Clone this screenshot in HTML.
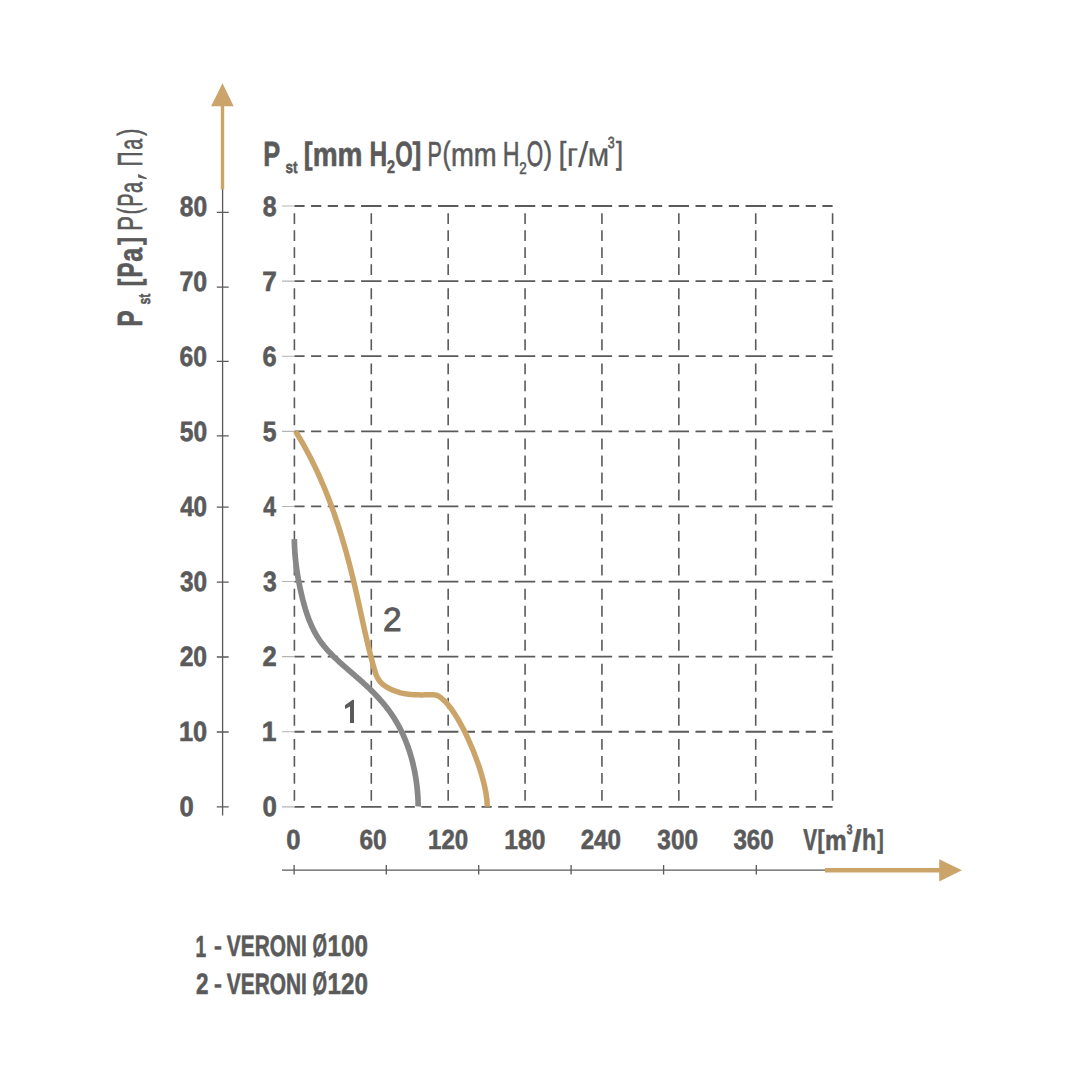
<!DOCTYPE html>
<html><head><meta charset="utf-8"><title>Chart</title>
<style>html,body{margin:0;padding:0;background:#fff;width:1080px;height:1080px;overflow:hidden}
svg{display:block;font-family:"Liberation Sans",sans-serif;font-kerning:none;text-rendering:geometricPrecision}</style>
</head><body>
<svg width="1080" height="1080" viewBox="0 0 1080 1080" font-family="Liberation Sans, sans-serif" style="font-kerning:none">
<rect width="1080" height="1080" fill="#ffffff"/>
<path d="M294.40 206.00H304.60M311.07 206.00H321.27M327.74 206.00H337.94M344.41 206.00H354.61M361.09 206.00H371.29M371.29 206.00H381.49M387.96 206.00H398.16M404.63 206.00H414.83M421.30 206.00H431.50M437.97 206.00H448.17M448.17 206.00H458.37M464.84 206.00H475.04M481.51 206.00H491.71M498.19 206.00H508.39M514.86 206.00H525.06M525.06 206.00H535.26M541.73 206.00H551.93M558.40 206.00H568.60M575.07 206.00H585.27M591.74 206.00H601.94M601.94 206.00H612.14M618.62 206.00H628.82M635.29 206.00H645.49M651.96 206.00H662.16M668.63 206.00H678.83M678.83 206.00H689.03M695.50 206.00H705.70M712.17 206.00H722.37M728.84 206.00H739.04M745.52 206.00H755.72M755.72 206.00H765.92M772.39 206.00H782.59M789.06 206.00H799.26M805.73 206.00H815.93M822.40 206.00H832.60M294.40 281.11H304.60M311.07 281.11H321.27M327.74 281.11H337.94M344.41 281.11H354.61M361.09 281.11H371.29M371.29 281.11H381.49M387.96 281.11H398.16M404.63 281.11H414.83M421.30 281.11H431.50M437.97 281.11H448.17M448.17 281.11H458.37M464.84 281.11H475.04M481.51 281.11H491.71M498.19 281.11H508.39M514.86 281.11H525.06M525.06 281.11H535.26M541.73 281.11H551.93M558.40 281.11H568.60M575.07 281.11H585.27M591.74 281.11H601.94M601.94 281.11H612.14M618.62 281.11H628.82M635.29 281.11H645.49M651.96 281.11H662.16M668.63 281.11H678.83M678.83 281.11H689.03M695.50 281.11H705.70M712.17 281.11H722.37M728.84 281.11H739.04M745.52 281.11H755.72M755.72 281.11H765.92M772.39 281.11H782.59M789.06 281.11H799.26M805.73 281.11H815.93M822.40 281.11H832.60M294.40 356.22H304.60M311.07 356.22H321.27M327.74 356.22H337.94M344.41 356.22H354.61M361.09 356.22H371.29M371.29 356.22H381.49M387.96 356.22H398.16M404.63 356.22H414.83M421.30 356.22H431.50M437.97 356.22H448.17M448.17 356.22H458.37M464.84 356.22H475.04M481.51 356.22H491.71M498.19 356.22H508.39M514.86 356.22H525.06M525.06 356.22H535.26M541.73 356.22H551.93M558.40 356.22H568.60M575.07 356.22H585.27M591.74 356.22H601.94M601.94 356.22H612.14M618.62 356.22H628.82M635.29 356.22H645.49M651.96 356.22H662.16M668.63 356.22H678.83M678.83 356.22H689.03M695.50 356.22H705.70M712.17 356.22H722.37M728.84 356.22H739.04M745.52 356.22H755.72M755.72 356.22H765.92M772.39 356.22H782.59M789.06 356.22H799.26M805.73 356.22H815.93M822.40 356.22H832.60M294.40 431.33H304.60M311.07 431.33H321.27M327.74 431.33H337.94M344.41 431.33H354.61M361.09 431.33H371.29M371.29 431.33H381.49M387.96 431.33H398.16M404.63 431.33H414.83M421.30 431.33H431.50M437.97 431.33H448.17M448.17 431.33H458.37M464.84 431.33H475.04M481.51 431.33H491.71M498.19 431.33H508.39M514.86 431.33H525.06M525.06 431.33H535.26M541.73 431.33H551.93M558.40 431.33H568.60M575.07 431.33H585.27M591.74 431.33H601.94M601.94 431.33H612.14M618.62 431.33H628.82M635.29 431.33H645.49M651.96 431.33H662.16M668.63 431.33H678.83M678.83 431.33H689.03M695.50 431.33H705.70M712.17 431.33H722.37M728.84 431.33H739.04M745.52 431.33H755.72M755.72 431.33H765.92M772.39 431.33H782.59M789.06 431.33H799.26M805.73 431.33H815.93M822.40 431.33H832.60M294.40 506.44H304.60M311.07 506.44H321.27M327.74 506.44H337.94M344.41 506.44H354.61M361.09 506.44H371.29M371.29 506.44H381.49M387.96 506.44H398.16M404.63 506.44H414.83M421.30 506.44H431.50M437.97 506.44H448.17M448.17 506.44H458.37M464.84 506.44H475.04M481.51 506.44H491.71M498.19 506.44H508.39M514.86 506.44H525.06M525.06 506.44H535.26M541.73 506.44H551.93M558.40 506.44H568.60M575.07 506.44H585.27M591.74 506.44H601.94M601.94 506.44H612.14M618.62 506.44H628.82M635.29 506.44H645.49M651.96 506.44H662.16M668.63 506.44H678.83M678.83 506.44H689.03M695.50 506.44H705.70M712.17 506.44H722.37M728.84 506.44H739.04M745.52 506.44H755.72M755.72 506.44H765.92M772.39 506.44H782.59M789.06 506.44H799.26M805.73 506.44H815.93M822.40 506.44H832.60M294.40 581.55H304.60M311.07 581.55H321.27M327.74 581.55H337.94M344.41 581.55H354.61M361.09 581.55H371.29M371.29 581.55H381.49M387.96 581.55H398.16M404.63 581.55H414.83M421.30 581.55H431.50M437.97 581.55H448.17M448.17 581.55H458.37M464.84 581.55H475.04M481.51 581.55H491.71M498.19 581.55H508.39M514.86 581.55H525.06M525.06 581.55H535.26M541.73 581.55H551.93M558.40 581.55H568.60M575.07 581.55H585.27M591.74 581.55H601.94M601.94 581.55H612.14M618.62 581.55H628.82M635.29 581.55H645.49M651.96 581.55H662.16M668.63 581.55H678.83M678.83 581.55H689.03M695.50 581.55H705.70M712.17 581.55H722.37M728.84 581.55H739.04M745.52 581.55H755.72M755.72 581.55H765.92M772.39 581.55H782.59M789.06 581.55H799.26M805.73 581.55H815.93M822.40 581.55H832.60M294.40 656.66H304.60M311.07 656.66H321.27M327.74 656.66H337.94M344.41 656.66H354.61M361.09 656.66H371.29M371.29 656.66H381.49M387.96 656.66H398.16M404.63 656.66H414.83M421.30 656.66H431.50M437.97 656.66H448.17M448.17 656.66H458.37M464.84 656.66H475.04M481.51 656.66H491.71M498.19 656.66H508.39M514.86 656.66H525.06M525.06 656.66H535.26M541.73 656.66H551.93M558.40 656.66H568.60M575.07 656.66H585.27M591.74 656.66H601.94M601.94 656.66H612.14M618.62 656.66H628.82M635.29 656.66H645.49M651.96 656.66H662.16M668.63 656.66H678.83M678.83 656.66H689.03M695.50 656.66H705.70M712.17 656.66H722.37M728.84 656.66H739.04M745.52 656.66H755.72M755.72 656.66H765.92M772.39 656.66H782.59M789.06 656.66H799.26M805.73 656.66H815.93M822.40 656.66H832.60M294.40 731.77H304.60M311.07 731.77H321.27M327.74 731.77H337.94M344.41 731.77H354.61M361.09 731.77H371.29M371.29 731.77H381.49M387.96 731.77H398.16M404.63 731.77H414.83M421.30 731.77H431.50M437.97 731.77H448.17M448.17 731.77H458.37M464.84 731.77H475.04M481.51 731.77H491.71M498.19 731.77H508.39M514.86 731.77H525.06M525.06 731.77H535.26M541.73 731.77H551.93M558.40 731.77H568.60M575.07 731.77H585.27M591.74 731.77H601.94M601.94 731.77H612.14M618.62 731.77H628.82M635.29 731.77H645.49M651.96 731.77H662.16M668.63 731.77H678.83M678.83 731.77H689.03M695.50 731.77H705.70M712.17 731.77H722.37M728.84 731.77H739.04M745.52 731.77H755.72M755.72 731.77H765.92M772.39 731.77H782.59M789.06 731.77H799.26M805.73 731.77H815.93M822.40 731.77H832.60M294.40 806.88H304.60M311.07 806.88H321.27M327.74 806.88H337.94M344.41 806.88H354.61M361.09 806.88H371.29M371.29 806.88H381.49M387.96 806.88H398.16M404.63 806.88H414.83M421.30 806.88H431.50M437.97 806.88H448.17M448.17 806.88H458.37M464.84 806.88H475.04M481.51 806.88H491.71M498.19 806.88H508.39M514.86 806.88H525.06M525.06 806.88H535.26M541.73 806.88H551.93M558.40 806.88H568.60M575.07 806.88H585.27M591.74 806.88H601.94M601.94 806.88H612.14M618.62 806.88H628.82M635.29 806.88H645.49M651.96 806.88H662.16M668.63 806.88H678.83M678.83 806.88H689.03M695.50 806.88H705.70M712.17 806.88H722.37M728.84 806.88H739.04M745.52 806.88H755.72M755.72 806.88H765.92M772.39 806.88H782.59M789.06 806.88H799.26M805.73 806.88H815.93M822.40 806.88H832.60" stroke="#5a5a5b" stroke-width="1.8" fill="none"/>
<path d="M294.40 213.20V224.10M294.40 230.20V241.10M294.40 247.20V258.10M294.40 264.20V275.10M294.40 288.31V299.21M294.40 305.31V316.21M294.40 322.31V333.21M294.40 339.31V350.21M294.40 363.42V374.32M294.40 380.42V391.32M294.40 397.42V408.32M294.40 414.42V425.32M294.40 438.53V449.43M294.40 455.53V466.43M294.40 472.53V483.43M294.40 489.53V500.43M294.40 513.64V524.54M294.40 530.64V541.54M294.40 547.64V558.54M294.40 564.64V575.54M294.40 588.75V599.65M294.40 605.75V616.65M294.40 622.75V633.65M294.40 639.75V650.65M294.40 663.86V674.76M294.40 680.86V691.76M294.40 697.86V708.76M294.40 714.86V725.76M294.40 738.97V749.87M294.40 755.97V766.87M294.40 772.97V783.87M294.40 789.97V800.87M371.29 213.20V224.10M371.29 230.20V241.10M371.29 247.20V258.10M371.29 264.20V275.10M371.29 288.31V299.21M371.29 305.31V316.21M371.29 322.31V333.21M371.29 339.31V350.21M371.29 363.42V374.32M371.29 380.42V391.32M371.29 397.42V408.32M371.29 414.42V425.32M371.29 438.53V449.43M371.29 455.53V466.43M371.29 472.53V483.43M371.29 489.53V500.43M371.29 513.64V524.54M371.29 530.64V541.54M371.29 547.64V558.54M371.29 564.64V575.54M371.29 588.75V599.65M371.29 605.75V616.65M371.29 622.75V633.65M371.29 639.75V650.65M371.29 663.86V674.76M371.29 680.86V691.76M371.29 697.86V708.76M371.29 714.86V725.76M371.29 738.97V749.87M371.29 755.97V766.87M371.29 772.97V783.87M371.29 789.97V800.87M448.17 213.20V224.10M448.17 230.20V241.10M448.17 247.20V258.10M448.17 264.20V275.10M448.17 288.31V299.21M448.17 305.31V316.21M448.17 322.31V333.21M448.17 339.31V350.21M448.17 363.42V374.32M448.17 380.42V391.32M448.17 397.42V408.32M448.17 414.42V425.32M448.17 438.53V449.43M448.17 455.53V466.43M448.17 472.53V483.43M448.17 489.53V500.43M448.17 513.64V524.54M448.17 530.64V541.54M448.17 547.64V558.54M448.17 564.64V575.54M448.17 588.75V599.65M448.17 605.75V616.65M448.17 622.75V633.65M448.17 639.75V650.65M448.17 663.86V674.76M448.17 680.86V691.76M448.17 697.86V708.76M448.17 714.86V725.76M448.17 738.97V749.87M448.17 755.97V766.87M448.17 772.97V783.87M448.17 789.97V800.87M525.06 213.20V224.10M525.06 230.20V241.10M525.06 247.20V258.10M525.06 264.20V275.10M525.06 288.31V299.21M525.06 305.31V316.21M525.06 322.31V333.21M525.06 339.31V350.21M525.06 363.42V374.32M525.06 380.42V391.32M525.06 397.42V408.32M525.06 414.42V425.32M525.06 438.53V449.43M525.06 455.53V466.43M525.06 472.53V483.43M525.06 489.53V500.43M525.06 513.64V524.54M525.06 530.64V541.54M525.06 547.64V558.54M525.06 564.64V575.54M525.06 588.75V599.65M525.06 605.75V616.65M525.06 622.75V633.65M525.06 639.75V650.65M525.06 663.86V674.76M525.06 680.86V691.76M525.06 697.86V708.76M525.06 714.86V725.76M525.06 738.97V749.87M525.06 755.97V766.87M525.06 772.97V783.87M525.06 789.97V800.87M601.94 213.20V224.10M601.94 230.20V241.10M601.94 247.20V258.10M601.94 264.20V275.10M601.94 288.31V299.21M601.94 305.31V316.21M601.94 322.31V333.21M601.94 339.31V350.21M601.94 363.42V374.32M601.94 380.42V391.32M601.94 397.42V408.32M601.94 414.42V425.32M601.94 438.53V449.43M601.94 455.53V466.43M601.94 472.53V483.43M601.94 489.53V500.43M601.94 513.64V524.54M601.94 530.64V541.54M601.94 547.64V558.54M601.94 564.64V575.54M601.94 588.75V599.65M601.94 605.75V616.65M601.94 622.75V633.65M601.94 639.75V650.65M601.94 663.86V674.76M601.94 680.86V691.76M601.94 697.86V708.76M601.94 714.86V725.76M601.94 738.97V749.87M601.94 755.97V766.87M601.94 772.97V783.87M601.94 789.97V800.87M678.83 213.20V224.10M678.83 230.20V241.10M678.83 247.20V258.10M678.83 264.20V275.10M678.83 288.31V299.21M678.83 305.31V316.21M678.83 322.31V333.21M678.83 339.31V350.21M678.83 363.42V374.32M678.83 380.42V391.32M678.83 397.42V408.32M678.83 414.42V425.32M678.83 438.53V449.43M678.83 455.53V466.43M678.83 472.53V483.43M678.83 489.53V500.43M678.83 513.64V524.54M678.83 530.64V541.54M678.83 547.64V558.54M678.83 564.64V575.54M678.83 588.75V599.65M678.83 605.75V616.65M678.83 622.75V633.65M678.83 639.75V650.65M678.83 663.86V674.76M678.83 680.86V691.76M678.83 697.86V708.76M678.83 714.86V725.76M678.83 738.97V749.87M678.83 755.97V766.87M678.83 772.97V783.87M678.83 789.97V800.87M755.72 213.20V224.10M755.72 230.20V241.10M755.72 247.20V258.10M755.72 264.20V275.10M755.72 288.31V299.21M755.72 305.31V316.21M755.72 322.31V333.21M755.72 339.31V350.21M755.72 363.42V374.32M755.72 380.42V391.32M755.72 397.42V408.32M755.72 414.42V425.32M755.72 438.53V449.43M755.72 455.53V466.43M755.72 472.53V483.43M755.72 489.53V500.43M755.72 513.64V524.54M755.72 530.64V541.54M755.72 547.64V558.54M755.72 564.64V575.54M755.72 588.75V599.65M755.72 605.75V616.65M755.72 622.75V633.65M755.72 639.75V650.65M755.72 663.86V674.76M755.72 680.86V691.76M755.72 697.86V708.76M755.72 714.86V725.76M755.72 738.97V749.87M755.72 755.97V766.87M755.72 772.97V783.87M755.72 789.97V800.87M832.60 213.20V224.10M832.60 230.20V241.10M832.60 247.20V258.10M832.60 264.20V275.10M832.60 288.31V299.21M832.60 305.31V316.21M832.60 322.31V333.21M832.60 339.31V350.21M832.60 363.42V374.32M832.60 380.42V391.32M832.60 397.42V408.32M832.60 414.42V425.32M832.60 438.53V449.43M832.60 455.53V466.43M832.60 472.53V483.43M832.60 489.53V500.43M832.60 513.64V524.54M832.60 530.64V541.54M832.60 547.64V558.54M832.60 564.64V575.54M832.60 588.75V599.65M832.60 605.75V616.65M832.60 622.75V633.65M832.60 639.75V650.65M832.60 663.86V674.76M832.60 680.86V691.76M832.60 697.86V708.76M832.60 714.86V725.76M832.60 738.97V749.87M832.60 755.97V766.87M832.60 772.97V783.87M832.60 789.97V800.87" stroke="#5a5a5b" stroke-width="1.6" fill="none"/>
<path d="M282 206.00H294.4M282 281.11H294.4M282 356.22H294.4M282 431.33H294.4M282 506.44H294.4M282 581.55H294.4M282 656.66H294.4M282 731.77H294.4M282 806.88H294.4" stroke="#b4b4b4" stroke-width="1.1" fill="none"/>
<path d="M222.6 189V815.6" stroke="#5a5a5b" stroke-width="1.3" fill="none"/>
<path d="M216.8 212.30H228.7M216.8 287.20H228.7M216.8 361.30H228.7M216.8 435.90H228.7M216.8 507.20H228.7M216.8 582.20H228.7M216.8 657.00H228.7M216.8 732.00H228.7M216.8 806.90H228.7" stroke="#5a5a5b" stroke-width="1.3" fill="none"/>
<path d="M222.5 106V189.4" stroke="#cba46a" stroke-width="3.4" fill="none"/>
<path d="M211.1 106.2L222.5 83.3L233.7 106.2Z" fill="#cba46a"/>
<path d="M282 870.1H826" stroke="#5a5a5b" stroke-width="1.4" fill="none"/>
<path d="M294.10 865V874.6M386.30 865V874.6M478.70 865V874.6M571.10 865V874.6M663.60 865V874.6M756.30 865V874.6" stroke="#5a5a5b" stroke-width="1.3" fill="none"/>
<path d="M825 870.3H940" stroke="#cba46a" stroke-width="4.4" fill="none"/>
<path d="M939.2 859.2L961.9 870.2L939.2 881.6Z" fill="#cba46a"/>
<path d="M294.32 539.10 L294.36 540.11 L294.38 541.15 L294.40 542.18 L294.43 543.20 L294.46 544.23 L294.50 545.26 L294.54 546.29 L294.58 547.31 L294.64 548.34 L294.69 549.36 L294.75 550.39 L294.82 551.41 L294.89 552.43 L294.96 553.45 L295.04 554.47 L295.13 555.49 L295.22 556.51 L295.31 557.53 L295.41 558.55 L295.51 559.56 L295.62 560.58 L295.73 561.60 L295.84 562.61 L295.96 563.63 L296.09 564.64 L296.21 565.65 L296.35 566.67 L296.48 567.68 L296.62 568.69 L296.77 569.70 L296.92 570.71 L297.07 571.72 L297.22 572.73 L297.38 573.74 L297.55 574.75 L297.72 575.76 L297.89 576.76 L298.07 577.77 L298.24 578.78 L298.43 579.78 L298.61 580.79 L298.81 581.80 L299.00 582.80 L299.20 583.80 L299.40 584.81 L299.60 585.81 L299.81 586.82 L300.02 587.82 L300.24 588.82 L300.46 589.82 L300.68 590.83 L300.90 591.83 L301.13 592.83 L301.36 593.83 L301.60 594.83 L301.84 595.83 L302.08 596.83 L302.32 597.83 L302.57 598.83 L302.82 599.83 L303.08 600.83 L303.34 601.82 L303.60 602.82 L303.87 603.81 L304.14 604.81 L304.42 605.80 L304.70 606.79 L304.99 607.77 L305.29 608.76 L305.58 609.74 L305.89 610.73 L306.20 611.71 L306.52 612.68 L306.84 613.66 L307.17 614.63 L307.50 615.60 L307.85 616.57 L308.20 617.53 L308.55 618.49 L308.92 619.45 L309.29 620.41 L309.67 621.36 L310.05 622.31 L310.45 623.25 L310.85 624.19 L311.26 625.12 L311.68 626.06 L312.11 626.98 L312.54 627.90 L312.99 628.82 L313.44 629.73 L313.90 630.64 L314.37 631.54 L314.86 632.44 L315.35 633.33 L315.85 634.22 L316.36 635.09 L316.88 635.97 L317.41 636.83 L317.95 637.69 L318.50 638.55 L319.06 639.39 L319.63 640.23 L320.21 641.07 L320.81 641.89 L321.41 642.71 L322.02 643.52 L322.64 644.33 L323.27 645.13 L323.91 645.92 L324.56 646.71 L325.22 647.49 L325.88 648.27 L326.55 649.04 L327.23 649.80 L327.92 650.56 L328.61 651.32 L329.30 652.07 L330.01 652.81 L330.72 653.55 L331.43 654.28 L332.15 655.01 L332.87 655.74 L333.60 656.46 L334.33 657.18 L335.07 657.89 L335.81 658.60 L336.55 659.30 L337.29 660.01 L338.04 660.70 L338.80 661.40 L339.55 662.09 L340.31 662.78 L341.07 663.47 L341.83 664.16 L342.60 664.84 L343.36 665.52 L344.13 666.20 L344.90 666.88 L345.68 667.55 L346.45 668.23 L347.23 668.90 L348.00 669.57 L348.78 670.24 L349.56 670.92 L350.33 671.59 L351.11 672.26 L351.89 672.93 L352.67 673.60 L353.45 674.27 L354.23 674.94 L355.01 675.62 L355.78 676.29 L356.56 676.96 L357.34 677.64 L358.11 678.32 L358.88 678.99 L359.66 679.67 L360.43 680.36 L361.19 681.04 L361.96 681.73 L362.73 682.42 L363.49 683.11 L364.25 683.80 L365.01 684.50 L365.76 685.20 L366.52 685.90 L367.27 686.60 L368.01 687.31 L368.76 688.02 L369.50 688.73 L370.24 689.45 L370.97 690.16 L371.70 690.89 L372.43 691.61 L373.16 692.34 L373.88 693.07 L374.60 693.80 L375.31 694.54 L376.02 695.28 L376.72 696.02 L377.42 696.77 L378.12 697.52 L378.81 698.27 L379.50 699.03 L380.18 699.79 L380.86 700.56 L381.53 701.33 L382.20 702.10 L382.86 702.88 L383.52 703.66 L384.17 704.44 L384.82 705.23 L385.46 706.02 L386.10 706.82 L386.73 707.62 L387.35 708.43 L387.97 709.24 L388.58 710.05 L389.18 710.87 L389.78 711.70 L390.37 712.53 L390.96 713.36 L391.54 714.20 L392.11 715.04 L392.68 715.89 L393.23 716.74 L393.79 717.59 L394.33 718.46 L394.87 719.32 L395.40 720.19 L395.93 721.06 L396.45 721.94 L396.96 722.82 L397.46 723.71 L397.96 724.60 L398.45 725.50 L398.94 726.39 L399.42 727.30 L399.89 728.20 L400.36 729.11 L400.82 730.02 L401.27 730.94 L401.72 731.86 L402.16 732.79 L402.59 733.71 L403.02 734.64 L403.44 735.58 L403.85 736.51 L404.26 737.45 L404.66 738.40 L405.06 739.34 L405.45 740.29 L405.83 741.25 L406.21 742.20 L406.58 743.16 L406.94 744.12 L407.30 745.08 L407.66 746.05 L408.00 747.02 L408.34 747.99 L408.68 748.96 L409.00 749.94 L409.33 750.91 L409.64 751.89 L409.95 752.88 L410.25 753.86 L410.55 754.85 L410.84 755.83 L411.13 756.82 L411.41 757.82 L411.68 758.81 L411.95 759.80 L412.21 760.80 L412.47 761.80 L412.72 762.80 L412.97 763.80 L413.20 764.80 L413.44 765.81 L413.66 766.81 L413.89 767.82 L414.10 768.83 L414.31 769.84 L414.52 770.85 L414.71 771.86 L414.91 772.87 L415.09 773.88 L415.28 774.90 L415.45 775.91 L415.62 776.92 L415.79 777.94 L415.95 778.95 L416.10 779.97 L416.25 780.99 L416.39 782.00 L416.53 783.02 L416.66 784.04 L416.79 785.05 L416.91 786.07 L417.02 787.09 L417.13 788.11 L417.24 789.12 L417.34 790.14 L417.43 791.16 L417.52 792.17 L417.60 793.19 L417.68 794.20 L417.76 795.22 L417.82 796.23 L417.89 797.25 L417.94 798.26 L417.99 799.27 L418.04 800.28 L418.08 801.29 L418.12 802.30 L418.15 803.31 L418.18 804.32 L418.20 805.33 L418.10 806.40" stroke="#878787" stroke-width="5.7" fill="none" stroke-linejoin="round"/>
<path d="M295.56 431.30 L296.10 432.19 L296.66 433.11 L297.23 434.04 L297.79 434.97 L298.35 435.90 L298.91 436.83 L299.46 437.76 L300.01 438.70 L300.56 439.63 L301.11 440.57 L301.65 441.51 L302.19 442.45 L302.72 443.39 L303.26 444.33 L303.79 445.27 L304.31 446.22 L304.84 447.16 L305.36 448.11 L305.88 449.06 L306.39 450.01 L306.90 450.96 L307.41 451.92 L307.92 452.87 L308.42 453.83 L308.93 454.78 L309.42 455.74 L309.92 456.70 L310.41 457.66 L310.90 458.62 L311.39 459.59 L311.87 460.55 L312.36 461.52 L312.84 462.48 L313.31 463.45 L313.79 464.42 L314.26 465.39 L314.73 466.36 L315.19 467.33 L315.65 468.31 L316.11 469.28 L316.57 470.26 L317.03 471.24 L317.48 472.21 L317.93 473.19 L318.38 474.17 L318.82 475.16 L319.27 476.14 L319.71 477.12 L320.14 478.11 L320.58 479.09 L321.01 480.08 L321.44 481.07 L321.87 482.06 L322.30 483.05 L322.72 484.04 L323.14 485.03 L323.56 486.02 L323.97 487.02 L324.39 488.01 L324.80 489.01 L325.21 490.01 L325.61 491.00 L326.02 492.00 L326.42 493.00 L326.82 494.00 L327.22 495.01 L327.61 496.01 L328.00 497.01 L328.39 498.02 L328.78 499.02 L329.17 500.03 L329.55 501.03 L329.93 502.04 L330.31 503.05 L330.69 504.06 L331.06 505.07 L331.44 506.08 L331.81 507.10 L332.18 508.11 L332.54 509.12 L332.91 510.14 L333.27 511.15 L333.63 512.17 L333.99 513.19 L334.35 514.21 L334.70 515.22 L335.05 516.24 L335.40 517.26 L335.75 518.28 L336.10 519.31 L336.44 520.33 L336.78 521.35 L337.12 522.38 L337.46 523.40 L337.80 524.43 L338.13 525.45 L338.47 526.48 L338.80 527.51 L339.13 528.53 L339.46 529.56 L339.78 530.59 L340.10 531.62 L340.43 532.65 L340.75 533.68 L341.06 534.71 L341.38 535.75 L341.70 536.78 L342.01 537.81 L342.32 538.85 L342.63 539.88 L342.94 540.92 L343.24 541.95 L343.55 542.99 L343.85 544.03 L344.15 545.06 L344.45 546.10 L344.75 547.14 L345.05 548.18 L345.34 549.22 L345.63 550.26 L345.93 551.30 L346.22 552.34 L346.50 553.38 L346.79 554.42 L347.08 555.47 L347.36 556.51 L347.64 557.55 L347.92 558.59 L348.20 559.64 L348.48 560.68 L348.76 561.73 L349.03 562.77 L349.31 563.82 L349.58 564.86 L349.85 565.91 L350.12 566.96 L350.39 568.00 L350.65 569.05 L350.92 570.10 L351.18 571.15 L351.45 572.20 L351.71 573.24 L351.97 574.29 L352.23 575.34 L352.49 576.39 L352.74 577.44 L353.00 578.49 L353.25 579.54 L353.50 580.59 L353.76 581.64 L354.01 582.69 L354.26 583.75 L354.50 584.80 L354.75 585.85 L355.00 586.90 L355.24 587.95 L355.48 589.00 L355.73 590.06 L355.97 591.11 L356.21 592.16 L356.45 593.21 L356.69 594.27 L356.92 595.32 L357.16 596.37 L357.40 597.43 L357.63 598.48 L357.86 599.53 L358.10 600.59 L358.33 601.64 L358.56 602.70 L358.79 603.75 L359.03 604.80 L359.26 605.86 L359.49 606.91 L359.72 607.97 L359.95 609.02 L360.18 610.07 L360.41 611.13 L360.64 612.18 L360.86 613.24 L361.09 614.29 L361.32 615.34 L361.55 616.40 L361.78 617.45 L362.01 618.51 L362.24 619.56 L362.47 620.61 L362.70 621.67 L362.93 622.72 L363.16 623.77 L363.40 624.83 L363.63 625.88 L363.86 626.93 L364.10 627.98 L364.33 629.04 L364.56 630.09 L364.80 631.14 L365.04 632.19 L365.27 633.25 L365.51 634.30 L365.75 635.35 L365.99 636.40 L366.23 637.45 L366.48 638.50 L366.72 639.55 L366.96 640.60 L367.21 641.65 L367.46 642.70 L367.71 643.75 L367.96 644.80 L368.21 645.85 L368.46 646.90 L368.72 647.94 L368.98 648.99 L369.23 650.04 L369.49 651.09 L369.76 652.13 L370.02 653.18 L370.28 654.23 L370.55 655.27 L370.82 656.32 L371.09 657.36 L371.37 658.40 L371.64 659.45 L371.92 660.49 L372.20 661.54 L372.48 662.58 L372.77 663.62 L373.06 664.66 L373.34 665.70 L373.64 666.74 L373.93 667.78 L374.23 668.82 L374.53 669.86 L374.83 670.90 L375.15 671.93 L375.47 672.96 L375.82 673.97 L376.20 674.97 L376.60 675.95 L377.04 676.91 L377.53 677.85 L378.05 678.76 L378.62 679.64 L379.23 680.49 L379.88 681.32 L380.56 682.12 L381.29 682.89 L382.05 683.63 L382.85 684.34 L383.69 685.02 L384.56 685.67 L385.46 686.29 L386.39 686.89 L387.34 687.45 L388.31 688.00 L389.30 688.51 L390.31 689.01 L391.33 689.48 L392.36 689.93 L393.39 690.36 L394.43 690.77 L395.47 691.16 L396.52 691.53 L397.56 691.88 L398.61 692.21 L399.67 692.52 L400.72 692.81 L401.78 693.07 L402.83 693.31 L403.89 693.53 L404.94 693.73 L406.00 693.91 L407.06 694.07 L408.12 694.22 L409.18 694.34 L410.24 694.45 L411.30 694.55 L412.36 694.63 L413.42 694.70 L414.49 694.75 L415.55 694.80 L416.62 694.83 L417.69 694.86 L418.76 694.87 L419.83 694.88 L420.90 694.89 L421.98 694.88 L423.05 694.88 L424.13 694.87 L425.21 694.85 L426.29 694.84 L427.38 694.82 L428.46 694.81 L429.55 694.79 L430.64 694.78 L431.74 694.77 L432.83 694.77 L433.90 694.80 C452.7 694.8 487.3 772.3 487.3 806.7" stroke="#cba46a" stroke-width="5.5" fill="none" stroke-linejoin="round"/>
<path d="M352.6 699.8H354V723.1H350V706.4L345 709.1L344.9 705.2Z" fill="#5a5a5b"/>
<path d="M138.1 174L146.9 178.1L146.6 179.2L138.2 177.6Z" fill="#5a5a5b"/>
<g stroke="#5a5a5b" stroke-width="0.6">
<text transform="translate(179.72 215.60) scale(0.8858 1)" font-size="27.80" font-weight="bold" fill="#5a5a5b">80</text>
<text transform="translate(179.43 290.71) scale(0.8955 1)" font-size="27.80" font-weight="bold" fill="#5a5a5b">70</text>
<text transform="translate(179.59 365.82) scale(0.8900 1)" font-size="27.80" font-weight="bold" fill="#5a5a5b">60</text>
<text transform="translate(179.74 440.93) scale(0.8850 1)" font-size="27.80" font-weight="bold" fill="#5a5a5b">50</text>
<text transform="translate(180.13 516.04) scale(0.8719 1)" font-size="27.80" font-weight="bold" fill="#5a5a5b">40</text>
<text transform="translate(179.94 591.15) scale(0.8784 1)" font-size="27.80" font-weight="bold" fill="#5a5a5b">30</text>
<text transform="translate(179.64 666.26) scale(0.8883 1)" font-size="27.80" font-weight="bold" fill="#5a5a5b">20</text>
<text transform="translate(178.90 741.37) scale(0.9133 1)" font-size="27.80" font-weight="bold" fill="#5a5a5b">10</text>
<text transform="translate(179.49 816.48) scale(0.9228 1)" font-size="27.80" font-weight="bold" fill="#5a5a5b">0</text>
<text transform="translate(262.71 215.60) scale(0.8963 1)" font-size="27.80" font-weight="bold" fill="#5a5a5b">8</text>
<text transform="translate(262.37 290.71) scale(0.9429 1)" font-size="27.80" font-weight="bold" fill="#5a5a5b">7</text>
<text transform="translate(262.57 365.82) scale(0.9153 1)" font-size="27.80" font-weight="bold" fill="#5a5a5b">6</text>
<text transform="translate(262.74 440.93) scale(0.8892 1)" font-size="27.80" font-weight="bold" fill="#5a5a5b">5</text>
<text transform="translate(263.15 516.04) scale(0.8260 1)" font-size="27.80" font-weight="bold" fill="#5a5a5b">4</text>
<text transform="translate(262.93 591.15) scale(0.8901 1)" font-size="27.80" font-weight="bold" fill="#5a5a5b">3</text>
<text transform="translate(262.61 666.26) scale(0.9190 1)" font-size="27.80" font-weight="bold" fill="#5a5a5b">2</text>
<text transform="translate(261.84 741.37) scale(0.9508 1)" font-size="27.80" font-weight="bold" fill="#5a5a5b">1</text>
<text transform="translate(262.48 816.48) scale(0.9303 1)" font-size="27.80" font-weight="bold" fill="#5a5a5b">0</text>
<text transform="translate(286.19 849.30) scale(0.9294 1)" font-size="27.60" font-weight="bold" fill="#5a5a5b">0</text>
<text transform="translate(359.50 849.30) scale(0.8860 1)" font-size="27.60" font-weight="bold" fill="#5a5a5b">60</text>
<text transform="translate(428.09 849.30) scale(0.8708 1)" font-size="27.60" font-weight="bold" fill="#5a5a5b">120</text>
<text transform="translate(504.35 849.30) scale(0.8916 1)" font-size="27.60" font-weight="bold" fill="#5a5a5b">180</text>
<text transform="translate(580.66 849.30) scale(0.8758 1)" font-size="27.60" font-weight="bold" fill="#5a5a5b">240</text>
<text transform="translate(657.34 849.30) scale(0.8829 1)" font-size="27.60" font-weight="bold" fill="#5a5a5b">300</text>
<text transform="translate(733.45 849.30) scale(0.8739 1)" font-size="27.60" font-weight="bold" fill="#5a5a5b">360</text>
<text transform="translate(803.16 849.70) scale(0.6868 1)" font-size="30.09" font-weight="bold" fill="#5a5a5b">V</text>
<text transform="translate(817.41 847.61) scale(0.8150 1)" font-size="25.96" font-weight="bold" fill="#5a5a5b">[</text>
<text transform="translate(824.90 849.70) scale(0.8555 1)" font-size="28.41" font-weight="bold" fill="#5a5a5b">m</text>
<text transform="translate(846.66 833.85) scale(0.7504 1)" font-size="13.67" font-weight="bold" fill="#5a5a5b">3</text>
<text transform="translate(852.59 850.50) scale(1.0730 1)" font-size="29.95" font-weight="bold" fill="#5a5a5b">/</text>
<text transform="translate(861.88 849.70) scale(0.7738 1)" font-size="29.95" font-weight="bold" fill="#5a5a5b">h</text>
<text transform="translate(877.16 847.61) scale(0.7423 1)" font-size="25.96" font-weight="bold" fill="#5a5a5b">]</text>
<text transform="translate(382.92 631.00) scale(0.9960 1)" font-size="33.50" font-weight="normal" fill="#5a5a5b" stroke="#5a5a5b" stroke-width="0.9">2</text>
<text transform="translate(195.60 956.50) scale(0.6296 1)" font-size="30.38" font-weight="bold" fill="#5a5a5b">1</text>
<text transform="translate(214.08 953.79) scale(1.0055 1)" font-size="23.50" font-weight="bold" fill="#5a5a5b">-</text>
<text transform="translate(226.86 956.21) scale(0.7072 1)" font-size="29.52" font-weight="bold" fill="#5a5a5b">VERONI</text>
<text transform="translate(312.53 956.29) scale(0.5980 1)" font-size="31.26" font-weight="bold" fill="#5a5a5b">Ø</text>
<text transform="translate(327.57 956.41) scale(0.8129 1)" font-size="29.80" font-weight="bold" fill="#5a5a5b">100</text>
<text transform="translate(196.02 994.40) scale(0.7530 1)" font-size="29.79" font-weight="bold" fill="#5a5a5b">2</text>
<text transform="translate(214.08 991.79) scale(1.0055 1)" font-size="23.50" font-weight="bold" fill="#5a5a5b">-</text>
<text transform="translate(226.86 994.11) scale(0.7106 1)" font-size="29.38" font-weight="bold" fill="#5a5a5b">VERONI</text>
<text transform="translate(312.53 994.19) scale(0.6006 1)" font-size="31.13" font-weight="bold" fill="#5a5a5b">Ø</text>
<text transform="translate(327.57 994.31) scale(0.8168 1)" font-size="29.66" font-weight="bold" fill="#5a5a5b">120</text>
<text transform="translate(263.30 165.80) scale(0.7264 1)" font-size="35.03" font-weight="bold" fill="#5a5a5b">P</text>
<text transform="translate(285.43 173.43) scale(0.7865 1)" font-size="17.07" font-weight="bold" fill="#5a5a5b">st</text>
<text transform="translate(303.71 163.87) scale(0.8531 1)" font-size="31.00" font-weight="bold" fill="#5a5a5b">[</text>
<text transform="translate(312.65 165.80) scale(0.8348 1)" font-size="33.61" font-weight="bold" fill="#5a5a5b">mm</text>
<text transform="translate(369.56 165.80) scale(0.6992 1)" font-size="35.03" font-weight="bold" fill="#5a5a5b">H</text>
<text transform="translate(386.90 173.20) scale(0.7880 1)" font-size="18.19" font-weight="bold" fill="#5a5a5b">2</text>
<text transform="translate(395.18 165.86) scale(0.6384 1)" font-size="35.17" font-weight="bold" fill="#5a5a5b">O</text>
<text transform="translate(412.48 163.87) scale(0.8531 1)" font-size="31.00" font-weight="bold" fill="#5a5a5b">]</text>
<text transform="translate(427.43 165.70) scale(0.6194 1)" font-size="34.88" font-weight="normal" fill="#5a5a5b">P</text>
<text transform="translate(442.48 164.06) scale(0.7639 1)" font-size="32.09" font-weight="normal" fill="#5a5a5b">(</text>
<text transform="translate(450.98 165.70) scale(0.8345 1)" font-size="32.89" font-weight="normal" fill="#5a5a5b">mm</text>
<text transform="translate(502.69 165.70) scale(0.6671 1)" font-size="34.88" font-weight="normal" fill="#5a5a5b">H</text>
<text transform="translate(519.33 173.50) scale(0.7923 1)" font-size="16.90" font-weight="normal" fill="#5a5a5b">2</text>
<text transform="translate(526.80 166.05) scale(0.5927 1)" font-size="35.59" font-weight="normal" fill="#5a5a5b">O</text>
<text transform="translate(543.65 164.06) scale(0.7756 1)" font-size="32.09" font-weight="normal" fill="#5a5a5b">)</text>
<text transform="translate(558.66 164.13) scale(0.8586 1)" font-size="31.65" font-weight="normal" fill="#5a5a5b">[</text>
<text transform="translate(566.64 165.90) scale(0.9363 1)" font-size="33.31" font-weight="normal" fill="#5a5a5b" stroke-width="0.15">г</text>
<text transform="translate(577.90 166.95) scale(1.0452 1)" font-size="35.81" font-weight="normal" fill="#5a5a5b" stroke-width="0">/</text>
<text transform="translate(587.39 165.90) scale(0.9563 1)" font-size="33.31" font-weight="normal" fill="#5a5a5b" stroke-width="0.15">м</text>
<text transform="translate(607.83 147.64) scale(0.7729 1)" font-size="16.10" font-weight="normal" fill="#5a5a5b">3</text>
<text transform="translate(616.00 164.13) scale(0.7950 1)" font-size="31.65" font-weight="normal" fill="#5a5a5b">]</text>
<g transform="translate(142 325) rotate(-90)"><text transform="translate(-1.65 0.00) scale(0.7033 1)" font-size="35.18" font-weight="bold" fill="#5a5a5b">P</text><text transform="translate(20.47 7.64) scale(0.7293 1)" font-size="16.61" font-weight="bold" fill="#5a5a5b">st</text><text transform="translate(38.63 -2.29) scale(0.7363 1)" font-size="30.79" font-weight="bold" fill="#5a5a5b">[</text><text transform="translate(47.49 0.00) scale(0.6430 1)" font-size="35.18" font-weight="bold" fill="#5a5a5b">P</text><text transform="translate(63.26 -0.02) scale(0.7607 1)" font-size="33.04" font-weight="bold" fill="#5a5a5b">a</text><text transform="translate(79.90 -2.29) scale(0.7977 1)" font-size="30.79" font-weight="bold" fill="#5a5a5b">]</text><text transform="translate(94.30 0.00) scale(0.6302 1)" font-size="34.88" font-weight="normal" fill="#5a5a5b">P</text><text transform="translate(110.71 -2.02) scale(0.6014 1)" font-size="31.99" font-weight="normal" fill="#5a5a5b">(</text><text transform="translate(118.35 0.00) scale(0.5763 1)" font-size="34.88" font-weight="normal" fill="#5a5a5b">P</text><text transform="translate(131.96 -0.02) scale(0.6146 1)" font-size="32.31" font-weight="normal" fill="#5a5a5b">a</text><text transform="translate(158.60 0.00) scale(0.6004 1)" font-size="34.88" font-weight="normal" fill="#5a5a5b">П</text><text transform="translate(175.26 -0.02) scale(0.6086 1)" font-size="32.31" font-weight="normal" fill="#5a5a5b">а</text><text transform="translate(189.18 -2.02) scale(0.6603 1)" font-size="31.99" font-weight="normal" fill="#5a5a5b">)</text></g>
</g>
</svg>
</body></html>
